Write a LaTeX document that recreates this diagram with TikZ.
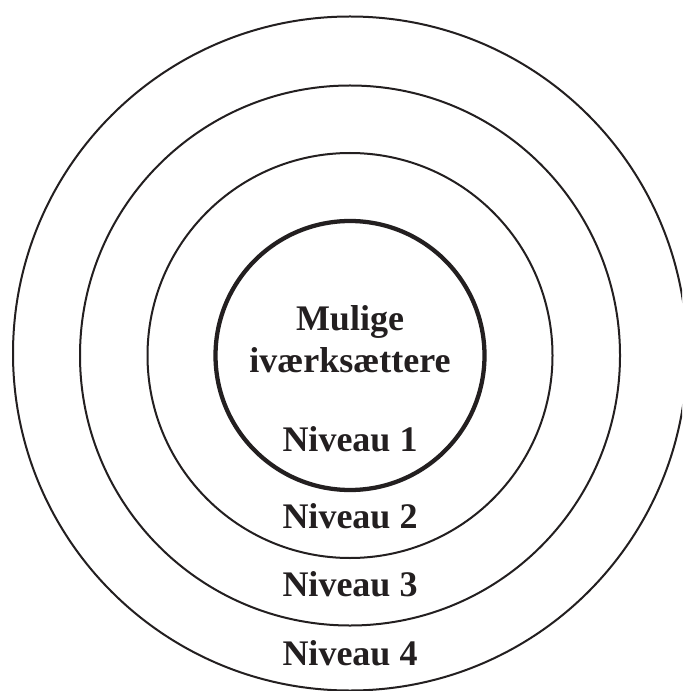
\documentclass[tikz,border=0pt]{standalone}
\usepackage{fontspec}
\setmainfont{Liberation Serif}
\definecolor{ink}{HTML}{231F20}
\begin{document}
\begin{tikzpicture}[x=0.75pt,y=-0.75pt,
  ring/.style={draw=ink,line width=1.5pt},
  corering/.style={draw=ink,line width=3.2pt},
  lbl/.style={anchor=base,inner sep=0pt,text=ink,font=\fontsize{27}{30}\selectfont\bfseries}]
\useasboundingbox (0,0) rectangle (682,691);
\clip (0,0) rectangle (682,691);
\fill[white] (0,0) rectangle (682,691);
\coordinate (c) at (350,355.5);
\coordinate (co) at (350,353.5);
\draw[ring] (co) circle[radius=337];
\draw[ring] (c) circle[radius=270];
\draw[ring] (c) circle[radius=202.5];
\draw[corering] (c) circle[radius=134.5];
\node[lbl] (t1) at (350,330) {Mulige};
\node[lbl] (t2) at (350,372) {iværksættere};
\node[lbl] (n1) at (350,451) {Niveau 1};
\node[lbl] (n2) at (350,528) {Niveau 2};
\node[lbl] (n3) at (350,596.5) {Niveau 3};
\node[lbl] (n4) at (350,665.5) {Niveau 4};
\end{tikzpicture}
\end{document}
